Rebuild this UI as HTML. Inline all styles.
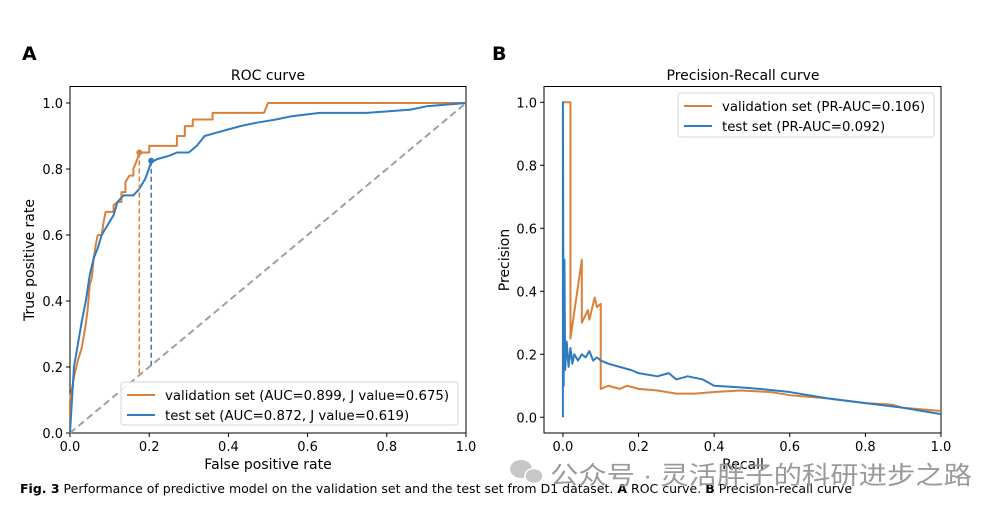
<!DOCTYPE html>
<html><head><meta charset="utf-8"><style>
body{margin:0;background:#fff;width:1005px;height:515px;overflow:hidden}
svg text{font-family:"DejaVu Sans","Liberation Sans",sans-serif;fill:#000}
</style></head><body>
<svg id="fig" width="1005" height="515">
<text x="22" y="60" font-size="19" font-weight="bold">A</text>
<text x="492" y="60" font-size="19" font-weight="bold">B</text>
<text x="268" y="80" font-size="14" text-anchor="middle">ROC curve</text>
<text x="743" y="80" font-size="14" text-anchor="middle">Precision-Recall curve</text>
<text x="268" y="469" font-size="14" text-anchor="middle">False positive rate</text>
<text x="743" y="469" font-size="14" text-anchor="middle">Recall</text>
<text transform="translate(34,260) rotate(-90)" font-size="14" text-anchor="middle">True positive rate</text>
<text transform="translate(509,260) rotate(-90)" font-size="14" text-anchor="middle">Precision</text>
<g id="roc"></g>
<g id="pr"></g>
<text x="20" y="493" font-size="12.5" font-family="Liberation Sans"><tspan font-weight="bold">Fig. 3</tspan>  Performance of predictive model on the validation set and the test set from D1 dataset. <tspan font-weight="bold">A</tspan> ROC curve. <tspan font-weight="bold">B</tspan> Precision-recall curve</text>
<g opacity="0.55">
<ellipse cx="521" cy="469" rx="11" ry="9" fill="#9a9a9a"/>
<ellipse cx="534" cy="476" rx="9" ry="7.5" fill="#9a9a9a" stroke="#fff" stroke-width="1.5"/>
</g>
<text x="550" y="484" font-size="25" textLength="422" lengthAdjust="spacingAndGlyphs" style="font-family:'Liberation Sans','Noto Sans CJK SC',sans-serif;fill:#9a9a9a">公众号 · 灵活胖子的科研进步之路</text>
</svg>
<script>
const rocValFpr=[0,0,0.01,0.02,0.03,0.04,0.045,0.05,0.055,0.06,0.065,0.07,0.08,0.085,0.09,0.11,0.11,0.12,0.13,0.13,0.14,0.14,0.15,0.16,0.16,0.17,0.175,0.2,0.2,0.27,0.27,0.29,0.29,0.31,0.31,0.36,0.36,0.49,0.5,1];
const rocValTpr=[0,0.1,0.17,0.22,0.26,0.33,0.38,0.45,0.47,0.53,0.57,0.6,0.6,0.64,0.67,0.67,0.69,0.7,0.7,0.73,0.73,0.76,0.78,0.78,0.8,0.83,0.85,0.85,0.87,0.87,0.9,0.9,0.93,0.93,0.95,0.95,0.97,0.97,1,1];
const rocTestFpr=[0,0.005,0.01,0.02,0.03,0.04,0.05,0.06,0.07,0.08,0.09,0.1,0.11,0.12,0.135,0.16,0.175,0.19,0.205,0.22,0.25,0.27,0.3,0.32,0.34,0.37,0.4,0.43,0.47,0.52,0.56,0.63,0.75,0.86,0.9,1];
const rocTestTpr=[0,0.1,0.2,0.27,0.34,0.4,0.48,0.53,0.56,0.6,0.62,0.64,0.66,0.7,0.72,0.72,0.74,0.77,0.82,0.83,0.84,0.85,0.85,0.87,0.9,0.91,0.92,0.93,0.94,0.95,0.96,0.97,0.97,0.98,0.99,1];
const jVal=[0.175,0.85];
const jTest=[0.205,0.825];
const prValRecall=[0,0.02,0.02,0.05,0.05,0.066,0.07,0.084,0.09,0.1,0.1,0.12,0.15,0.17,0.2,0.25,0.3,0.35,0.4,0.47,0.55,0.6,0.7,0.8,0.87,0.9,1];
const prValPrec=[1,1,0.25,0.5,0.3,0.34,0.31,0.38,0.35,0.36,0.09,0.1,0.09,0.1,0.09,0.085,0.075,0.075,0.08,0.085,0.08,0.07,0.06,0.045,0.04,0.03,0.02];
const prTestRecall=[0,0,0.002,0.004,0.006,0.01,0.015,0.02,0.025,0.03,0.04,0.05,0.06,0.07,0.08,0.09,0.1,0.12,0.15,0.18,0.2,0.25,0.28,0.3,0.33,0.37,0.4,0.47,0.52,0.6,0.7,0.8,0.9,1];
const prTestPrec=[0,1,0.1,0.5,0.15,0.24,0.16,0.22,0.17,0.2,0.18,0.2,0.19,0.21,0.18,0.19,0.18,0.17,0.16,0.15,0.14,0.13,0.14,0.12,0.13,0.12,0.1,0.095,0.09,0.08,0.06,0.045,0.03,0.01];
const xTicks=["0.0","0.2","0.4","0.6","0.8","1.0"];
const yTicks=["0.0","0.2","0.4","0.6","0.8","1.0"];
const NS="http://www.w3.org/2000/svg";
function mk(p,t,a){const e=document.createElementNS(NS,t);for(const k in a)e.setAttribute(k,a[k]);p.appendChild(e);return e;}
function axes(g,x0,x1,y0,y1,L,R,B,T,name){
 const sx=v=>L+(v-x0)/(x1-x0)*(R-L), sy=v=>B-(v-y0)/(y1-y0)*(B-T);
 const fr=mk(g,'rect',{x:L,y:T,width:R-L,height:B-T,fill:'none',stroke:'#000','stroke-width':1});
 
 
 xTicks.forEach(t=>{const v=+t;mk(g,'line',{x1:sx(v),x2:sx(v),y1:B,y2:B+4,stroke:'#000'});
  const tx=mk(g,'text',{x:sx(v),y:B+18,'font-size':13,'text-anchor':'middle'});tx.textContent=t;
  
  });
 yTicks.forEach(t=>{const v=+t;mk(g,'line',{x1:L-4,x2:L,y1:sy(v),y2:sy(v),stroke:'#000'});
  const tx=mk(g,'text',{x:L-7,y:sy(v)+5,'font-size':13,'text-anchor':'end'});tx.textContent=t;
  
  });
 return [sx,sy];
}
function line(g,sx,sy,xs,ys,col,nm,extra){
 const p=mk(g,'polyline',Object.assign({points:xs.map((x,i)=>sx(x)+','+sy(ys[i])).join(' '),fill:'none',stroke:col,'stroke-width':2,'stroke-linejoin':'round'},extra||{}));
 
 
}
const OR='#d9803a',BL='#2f7bbf';
const rg=document.getElementById('roc');
const [rx,ry]=axes(rg,0,1,0,1.05,70,466,433,86.5,'roc');
line(rg,rx,ry,[0,1],[0,1],'#a0a0a0','chance-diagonal',{'stroke-dasharray':'7,4'});
line(rg,rx,ry,rocValFpr,rocValTpr,OR,'roc-validation-line');
line(rg,rx,ry,rocTestFpr,rocTestTpr,BL,'roc-test-line');
line(rg,rx,ry,[jVal[0],jVal[0]],[jVal[1],jVal[0]],OR,'validation-j-drop',{'stroke-dasharray':'5,3','stroke-width':1.5});
line(rg,rx,ry,[jTest[0],jTest[0]],[jTest[1],jTest[0]],BL,'test-j-drop',{'stroke-dasharray':'5,3','stroke-width':1.5});
[[jVal,OR,'validation-j-point'],[jTest,BL,'test-j-point']].forEach(([j,c,n])=>{const d=mk(rg,'circle',{cx:rx(j[0]),cy:ry(j[1]),r:3,fill:c});
 
 });
function legend(g,x,y,w,h,items,nm){
 const lg=mk(g,'g',{});
 
 
 mk(lg,'rect',{x:x,y:y,width:w,height:h,fill:'#fff','fill-opacity':0.85,stroke:'#d6d6d6',rx:3});
 items.forEach((it,i)=>{const yy=y+13+i*20;
  mk(lg,'line',{x1:x+6,x2:x+34,y1:yy,y2:yy,stroke:it[1],'stroke-width':2});
  const t=mk(lg,'text',{x:x+44,y:yy+5,'font-size':13.3});t.textContent=it[0];
  
  });
}
legend(rg,121,382,337,43,[["validation set (AUC=0.899, J value=0.675)",OR],["test set (AUC=0.872, J value=0.619)",BL]],'roc-legend');
const pg=document.getElementById('pr');
const [px,py]=axes(pg,-0.05,1,-0.05,1.05,544,941,433,86.5,'pr');
line(pg,px,py,prValRecall,prValPrec,OR,'pr-validation-line');
line(pg,px,py,prTestRecall,prTestPrec,BL,'pr-test-line');
legend(pg,678,93,256,44,[["validation set (PR-AUC=0.106)",OR],["test set (PR-AUC=0.092)",BL]],'pr-legend');
</script>
</body></html>
